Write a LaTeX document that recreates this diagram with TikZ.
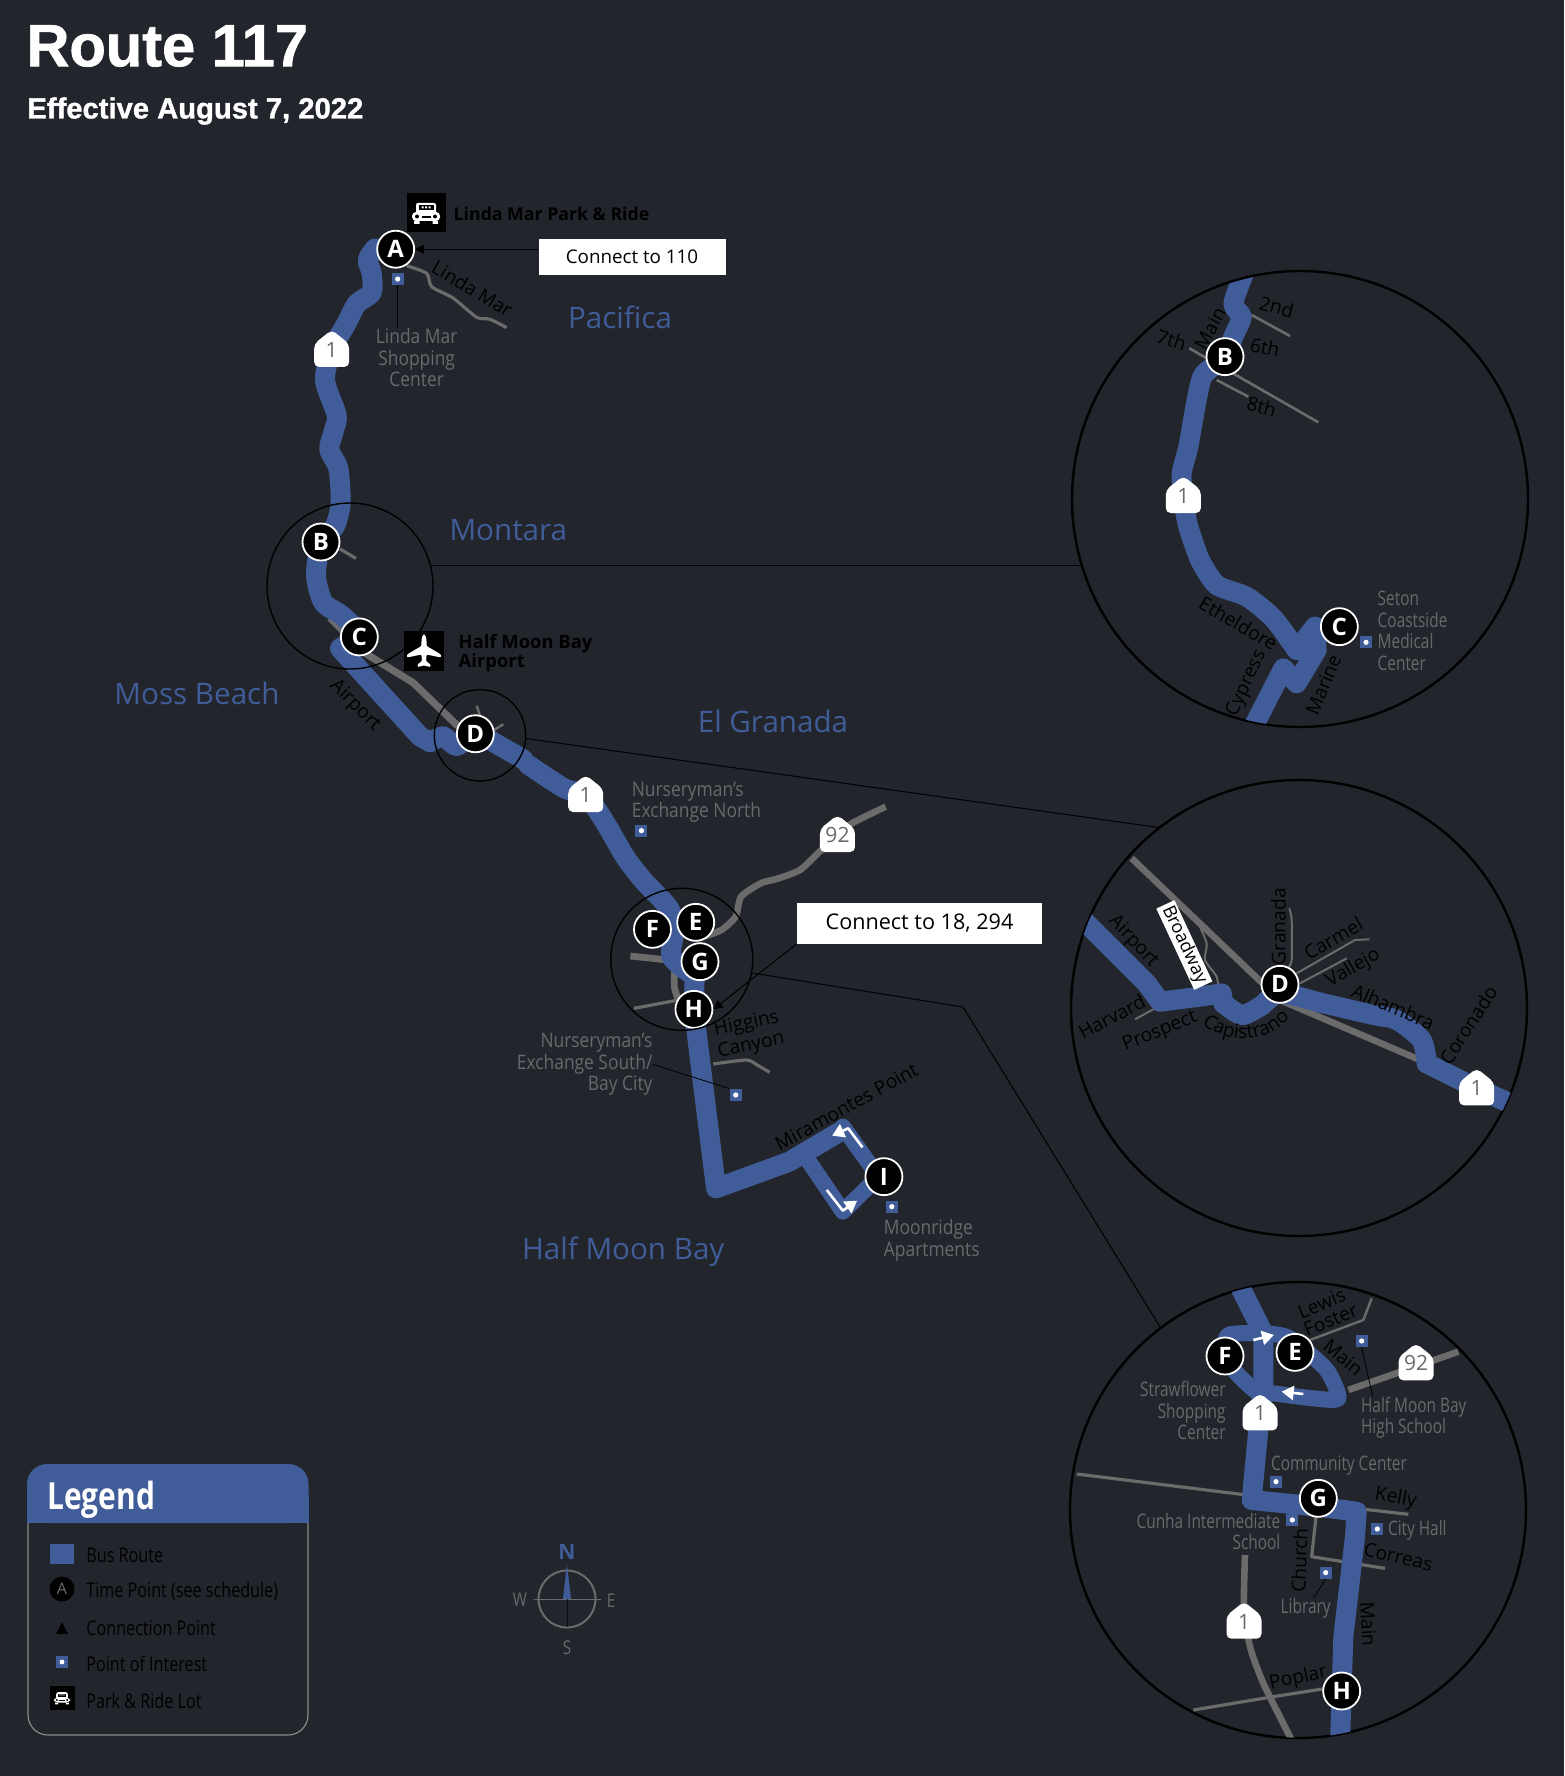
\documentclass[tikz,border=0pt]{standalone}
\usepackage{fontspec}
\setmainfont{Open Sans}
\newfontfamily\cond[FakeStretch=0.87]{Open Sans}
\newfontfamily\condn[FakeStretch=0.77]{Open Sans}
\newfontfamily\condl[FakeStretch=0.8]{Open Sans}
\newfontfamily\titlef[BoldFeatures={FakeBold=1.2}]{Liberation Sans}
\usetikzlibrary{arrows.meta,decorations.text}
\definecolor{bgc}{HTML}{22252B}
\definecolor{routeblue}{HTML}{405D99}
\definecolor{roadgray}{HTML}{6B6B6B}
\definecolor{labelgray}{HTML}{69696C}
\definecolor{legline}{HTML}{8A8A8A}
\tikzset{
 z1/.style={shift={(240,170)},xscale=1/3,yscale=1/2.613},
 z2/.style={shift={(500,760)},xscale=1/2.8,yscale=1/3},
 z3/.style={shift={(1060,260)},scale=1/3},
 z4/.style={shift={(1060,770)},scale=1/3},
 z5/.style={shift={(1060,1270)},scale=1/3},
 z6/.style={shift={(0,1440)},xscale=1/2.376,yscale=1/3},
 route/.style={draw=routeblue,line width=10pt,line cap=round,line join=round},
 routenar/.style={draw=routeblue,line width=8pt,line cap=round,line join=round},
 roadw/.style={draw=roadgray,line width=3.3pt,line join=round},
 roadm/.style={draw=roadgray,line width=1.6pt,line join=round},
 tp/.style={circle,fill=black,draw=white,line width=.9pt,minimum size=18.5pt,inner sep=0pt,text=white,font=\bfseries\fontsize{12}{12}\selectfont},
 poi/.style={rectangle,fill=routeblue,minimum size=6pt,inner sep=0pt},
 poidot/.style={circle,fill=white,minimum size=2.6pt,inner sep=0pt},
 glabel/.style={text=labelgray,font=\cond\fontsize{10}{10.8}\selectfont,inner sep=0pt},
 glabeln/.style={text=labelgray,font=\condn\fontsize{10}{10.8}\selectfont,inner sep=0pt},
 slabel/.style={text=black,font=\fontsize{9.6}{10.8}\selectfont,inner sep=0pt},
 town/.style={text=routeblue,font=\fontsize{14.8}{16}\selectfont,inner sep=0pt},
 blabel/.style={text=black,font=\bfseries\fontsize{8.85}{9.5}\selectfont,inner sep=0pt},
 shieldt/.style={text=labelgray,font=\fontsize{10.5}{11}\selectfont,inner sep=0pt},
 magsmall/.style={circle,draw=black,line width=.7pt,inner sep=0pt},
 magbig/.style={circle,draw=black,line width=1.2pt,inner sep=0pt,minimum size=228pt},
 conn/.style={draw=black,line width=.5pt},
 connarrow/.style={draw=black,line width=.5pt,-{Triangle[length=4.5pt,width=4.5pt]}},
 leader/.style={draw=black,line width=.4pt},
 whitebox/.style={fill=white,text=black,inner sep=0pt},
 warrow/.style={draw=white,line width=1.3pt,line join=round,-{Triangle[length=6pt,width=7pt]}},
 iconbox/.style={fill=black,inner sep=0pt},
 legtext/.style={text=black,font=\condl\fontsize{10.1}{11}\selectfont,inner sep=0pt,anchor=west},
 compl/.style={text=labelgray,font=\condl\fontsize{9.5}{11}\selectfont,inner sep=0pt},
 car/.pic={
  \fill[white,rounded corners=1pt] (-10,-10) rectangle (10,2);
  \fill[black] (-7.5,-7.5) rectangle (7.5,-2.5);
  \fill[white] (-4.5,-6.5) rectangle (-2.5,-4.5) (-1,-6.5) rectangle (1,-4.5) (2.5,-6.5) rectangle (4.5,-4.5);
  \fill[white,rounded corners=2pt] (-14,-1) rectangle (14,8);
  \fill[white] (-12,8) rectangle (-6.5,11) (6.5,8) rectangle (12,11);
  \fill[black] (-9,3.5) circle (2) (9,3.5) circle (2);
  \fill[black] (-4.5,3) rectangle (4.5,5.5);
 },
 planeicon/.pic={
  \fill[white,rounded corners=.5pt] (0,-16) .. controls (2,-15) and (2.6,-12) .. (2.6,-5)
   -- (17,3.5) -- (17,6.5) -- (2.6,3.5) -- (2,10) -- (6.5,13.5) -- (6.5,16) -- (0,14.5)
   -- (-6.5,16) -- (-6.5,13.5) -- (-2,10) -- (-2.6,3.5) -- (-17,6.5) -- (-17,3.5) -- (-2.6,-5)
   .. controls (-2.6,-12) and (-2,-15) .. (0,-16) -- cycle;
 },
}
\newcommand\POI[2]{\node[poi] (#1) at #2 {}; \node[poidot] at (#1) {};}
\newcommand\Shield[3]{\coordinate (#1c) at #2;
 \fill[white,rounded corners=2.4pt,reset cm,shift={(#1c)}] (-17.5,17) -- (17.5,17) -- (17.5,-6) -- (0,-20) -- (-17.5,-6) -- cycle;
 \node[shieldt] (#1) at (#1c) {#3};}
\begin{document}
\begin{tikzpicture}[x=0.5pt,y=-0.5pt]
\useasboundingbox (0,0) rectangle (1564,1776);
\fill[bgc] (0,0) rectangle (1564,1776);

% title
\node[anchor=west,inner sep=0pt,text=white,font=\titlef\bfseries\fontsize{29.8}{32}\selectfont] (title) at (26,46) {Route 117};
\node[anchor=west,inner sep=0pt,text=white,font=\titlef\bfseries\fontsize{14.6}{16}\selectfont] (subtitle) at (27,111) {Effective August 7, 2022};

% ---------- main map, upper
\begin{scope}[z1]
 \draw[roadm] plot[smooth,tension=.4] coordinates {(500,250) (560,270) (575,305) (640,335) (710,385) (750,390) (800,412)};
 \draw[roadw,line width=3.6pt] (270,1170) -- (380,1265) -- (520,1340) -- (650,1450) -- (800,1510) -- (855,1568);
 \draw[roadm] (300,990) -- (348,1015);
 \draw[draw=roadgray,line width=1.2pt] (710,1400) -- (722,1432);
 \draw[draw=roadgray,line width=1.2pt] (790,1448) -- (750,1470);
 \draw[route] plot[smooth,tension=.45] coordinates {(405,205) (383,235) (395,270) (395,320) (350,350) (320,400) (275,470) (255,550) (290,640) (282,680) (268,730) (295,780) (302,870) (285,930) (243,972) (228,1060) (250,1130) (300,1160) (345,1195)};
 \draw[route] (345,1195) -- (358,1220) -- (300,1250) -- (540,1480) -- (570,1495);
 \draw[route] plot[smooth,tension=.45] coordinates {(570,1495) (610,1480) (650,1505) (706,1473) (790,1510) (850,1540)};
 \Shield{shA}{(275,470)}{1}
 \node[tp] (A) at (467,207) {A};
 \node[tp] (B) at (243,972) {B};
 \node[tp] (C) at (358,1220) {C};
 \node[tp] (D) at (706,1473) {D};
 \POI{poiLM}{(473,285)}
 \node[glabel,align=center] (lblLM) at (530,490) {Linda Mar\\Shopping\\Center};
 \node[slabel,rotate=-31] (lblLindaMar) at (697,310) {Linda Mar};
 \node[slabel,rotate=-45] (lblAirport) at (345,1400) {Airport};
 \node[town] (Pacifica) at (1140,385) {Pacifica};
 \node[town] (Montara) at (805,940) {Montara};
 \node[blabel,anchor=west] (lblPR) at (640,115) {Linda Mar Park \& Ride};
 \node[blabel,font=\bfseries\fontsize{9.2}{9.6}\selectfont,anchor=west,align=left] (lblHMA) at (655,1263) {Half Moon Bay\\Airport};
 \node[magsmall,minimum size=83pt] (magB) at (330,1087) {};
 \node[magsmall,minimum size=45.7pt] (magD) at (720,1477) {};
\end{scope}
\node[town] (Moss) at (197,693) {Moss Beach};
\node[town] (Granada) at (773,721) {El Granada};
\node[iconbox,minimum size=19.5pt] (prbox) at (426,213) {};
\pic at (prbox) {car};
\node[iconbox,minimum size=20pt] (planebox) at (424,651) {};
\pic at (planebox) {planeicon};
\node[whitebox,minimum width=93.5pt,minimum height=18pt,font=\fontsize{9.4}{11}\selectfont] (c110) at (632,257) {Connect to 110};

% ---------- main map, lower
\begin{scope}[z2]
 \draw[roadw] plot[smooth,tension=.4] coordinates {(1080,140) (985,190) (945,225) (890,280) (840,330) (780,355) (730,370) (675,410) (660,470) (620,510) (570,530)};
 \draw[draw=roadgray,line width=3.4pt] (365,588) -- (470,600);
 \draw[draw=roadgray,line width=3.4pt] plot[smooth] coordinates {(490,620) (488,680) (500,720)};
 \draw[roadm] (375,745) -- (490,722);
 \draw[roadm] plot[smooth,tension=.4] coordinates {(597,912) (690,900) (720,915) (755,937)};
 \draw[route] plot[smooth,tension=.4] coordinates {(80,15) (180,85) (240,105) (290,180) (350,290) (400,360) (470,440) (490,500) (480,590) (545,650)};
 \draw[route] (545,650) -- (543,748) -- (560,900) -- (605,1285) -- (810,1205) -- (960,1110);
 \draw[routenar] (960,1100) -- (1060,1250) -- (960,1355) -- (865,1205);
 \draw[warrow] (1015,1162) -- (975,1105) -- (930,1127);
 \draw[warrow] (915,1290) -- (960,1352) -- (1000,1322);
 \Shield{shB}{(240,105)}{1}
 \Shield{sh92}{(945,225)}{92}
 \node[tp] (E) at (548,487) {E};
 \node[tp] (F) at (427,508) {F};
 \node[tp] (G) at (560,605) {G};
 \node[tp] (H) at (543,748) {H};
 \node[tp] (I) at (1075,1250) {I};
 \POI{poiNN}{(396,212)}
 \POI{poiNS}{(660,1005)}
 \POI{poiMR}{(1097,1340)}
 \node[glabel,anchor=west,align=left] (lblNN) at (368,127) {Nurseryman’s\\Exchange North};
 \node[glabel,anchor=east,align=right] (lblNS) at (428,913) {Nurseryman’s\\Exchange South/\\Bay City};
 \node[glabel,anchor=west,align=left] (lblMR) at (1074,1440) {Moonridge\\Apartments};
 \node[slabel,rotate=12,align=center] (lblHC) at (697,825) {Higgins\\Canyon};
 \node[slabel,rotate=29] (lblMP) at (970,1040) {Miramontes Point};
 \node[town] (HMB) at (345,1475) {Half Moon Bay};
 \node[magsmall,minimum size=71pt] (magG) at (509,598) {};
\end{scope}
\node[whitebox,minimum width=122.5pt,minimum height=20.5pt,font=\fontsize{10.8}{12}\selectfont] (c18) at (919.5,923) {Connect to 18, 294};

% ---------- inset B/C
\node[magbig] (bigB) at (1300,499) {};
\begin{scope}[z3]
 \begin{scope}
  \clip (720,718) circle (681);
  \draw[roadm,line width=1.3pt] (575,165) -- (690,228);
  \draw[roadm,line width=1.3pt] (388,265) -- (775,487);
  \draw[roadm,line width=1.3pt] (470,360) -- (565,410);
  \draw[route] plot[smooth,tension=.4] coordinates {(560,20) (520,130) (545,170) (520,230) (495,290) (430,345) (410,420) (385,560) (365,640) (370,720) (385,800) (420,900) (470,975) (560,1010) (640,1075) (710,1170)};
  \draw[route] (710,1170) -- (765,1100) -- (770,1170) -- (710,1270) -- (670,1225) -- (570,1420);
 \end{scope}
 \Shield{shC}{(370,708)}{1}
 \node[tp] (B2) at (495,290) {B};
 \node[tp] (C2) at (838,1100) {C};
 \POI{poiSC}{(918,1147)}
 \node[glabeln,anchor=west,align=left] (lblSC) at (952,1112) {Seton\\Coastside\\Medical\\Center};
 \node[slabel,rotate=-15] at (650,140) {2nd};
 \node[slabel,rotate=-18] at (335,240) {7th};
 \node[slabel,rotate=-12] at (615,262) {6th};
 \node[slabel,rotate=-15] at (605,440) {8th};
 \node[slabel,rotate=62] at (450,205) {Main};
 \node[slabel,rotate=-30] at (535,1090) {Etheldore};
 \node[slabel,rotate=65] at (560,1270) {Cypress};
 \node[slabel,rotate=68] at (790,1275) {Marine};
\end{scope}

% ---------- inset D
\node[magbig] (bigD) at (1299,1008) {};
\begin{scope}[z4]
 \begin{scope}
  \clip (718,713) circle (683);
  \draw[roadw] (215,265) -- (660,690) -- (1080,870);
  \draw[draw=roadgray,line width=1pt] plot[smooth,tension=.4] coordinates {(415,460) (440,520) (435,570) (470,620) (475,660)};
  \draw[draw=roadgray,line width=1pt] plot[smooth,tension=.4] coordinates {(688,415) (695,450) (695,570) (680,600)};
  \draw[draw=roadgray,line width=1pt] (710,610) -- (885,510) -- (928,508);
  \draw[draw=roadgray,line width=1pt] (720,640) -- (860,565);
  \draw[draw=roadgray,line width=1pt] (225,748) -- (285,715);
  \draw[route] (70,450) -- (260,640) -- (300,695) -- (420,680) -- (485,670) -- (490,700);
  \draw[route] plot[smooth,tension=.45] coordinates {(490,700) (545,735) (600,710) (660,670) (790,700) (940,735) (1010,750) (1085,810) (1100,880)};
  \draw[route] (1100,880) -- (1220,940) -- (1360,1005);
 \end{scope}
 \Shield{shD}{(1250,955)}{1}
 \node[tp] (D2) at (660,643) {D};
 \node[slabel,rotate=-47] at (220,515) {Airport};
 \node[slabel,font=\fontsize{9}{10}\selectfont,rotate=-65,fill=white,inner xsep=1.5pt,inner ysep=.5pt] (lblBroadway) at (373,525) {Broadway};
 \node[slabel,rotate=28] at (155,740) {Harvard};
 \node[slabel,rotate=22] at (300,785) {Prospect};
 \path[decorate,decoration={text along path,text align=center,text={|\fontsize{9.6}{11}\selectfont|Capistrano}}] (418,755) .. controls (490,822) and (620,830) .. (697,735);
 \node[slabel,rotate=-23] at (1000,710) {Alhambra};
 \node[slabel,rotate=57] at (1225,765) {Coronado};
 \node[slabel,rotate=90] at (655,470) {Granada};
 \node[slabel,rotate=30] at (820,505) {Carmel};
 \node[slabel,rotate=30] at (880,595) {Vallejo};
\end{scope}

% ---------- inset E-H
\node[magbig] (bigG) at (1298,1510) {};
\begin{scope}[z5]
 \begin{scope}
  \clip (715,720) circle (683);
  \draw[roadw] (1195,245) -- (865,360);
  \draw[draw=roadgray,line width=1.2pt] (935,85) -- (910,150) -- (750,210);
  \draw[roadm] (50,612) -- (560,675);
  \draw[roadm] (915,718) -- (1045,733);
  \draw[roadm] (768,740) -- (755,860) -- (975,895);
  \draw[roadw] plot[smooth,tension=.4] coordinates {(555,855) (552,1010) (570,1130) (610,1240) (700,1420)};
  \draw[roadm] (400,1320) -- (640,1280) -- (800,1255);
  \draw[routenar] plot[smooth cycle,tension=.4] coordinates {(610,190) (690,205) (800,300) (835,385) (760,385) (640,370) (590,365) (530,310) (495,258) (505,195)};
  \draw[route] (530,30) -- (610,190) -- (610,340) -- (595,480) -- (575,690) -- (775,710) -- (890,725) -- (885,800) -- (850,1100) -- (840,1420);
 \end{scope}
 \draw[warrow] (580,210) -- (642,195);
 \draw[warrow] (730,372) -- (665,365);
 \Shield{sh92b}{(1068,280)}{92}
 \Shield{shE}{(600,430)}{1}
 \Shield{shF}{(552,1055)}{1}
 \node[tp] (F2) at (495,258) {F};
 \node[tp] (E2) at (705,247) {E};
 \node[tp] (G2) at (775,685) {G};
 \node[tp] (H2) at (845,1263) {H};
 \POI{poiHS}{(905,213)}
 \POI{poiCC}{(648,635)}
 \POI{poiCI}{(697,750)}
 \POI{poiCH}{(952,777)}
 \POI{poiLib}{(797,908)}
 \node[glabeln,anchor=east,align=right] (lblSF) at (498,422) {Strawflower\\Shopping\\Center};
 \node[glabeln,anchor=west,align=left] (lblHS) at (902,443) {Half Moon Bay\\High School};
 \node[glabeln,anchor=west] (lblCC) at (632,586) {Community Center};
 \node[glabeln,anchor=east,align=right] (lblCI) at (662,785) {Cunha Intermediate\\School};
 \node[glabeln,anchor=west] (lblCH) at (983,782) {City Hall};
 \node[glabeln] (lblLib) at (737,1015) {Library};
 \node[slabel,rotate=22] at (785,100) {Lewis};
 \node[slabel,rotate=22] at (812,150) {Foster};
 \node[slabel,rotate=-40] at (850,262) {Main};
 \node[slabel,rotate=-10] at (1007,685) {Kelly};
 \node[slabel,rotate=-13] at (1015,860) {Correas};
 \node[slabel,rotate=88] at (718,870) {Church};
 \node[slabel,rotate=-87] at (925,1062) {Main};
 \node[slabel,rotate=12] at (715,1225) {Poplar};
\end{scope}

% ---------- connectors
\draw[connarrow] (c110.west |- A.east) -- (A.east);
\draw[connarrow] (c18.south west) -- (H.east);
\draw[conn] (magB.14.6) -- (bigB.196.9 |- magB.14.6);
\draw[conn] (magD.-4) -- (bigD.128);
\coordinate (bendG) at (963,1007);
\draw[conn] (magG.-11) -- (bendG) -- (bigG.127);
\draw[leader] (poiLM.south) -- (poiLM.south |- lblLM.north);
\draw[leader] (lblNS.east) -- (poiNS.north west);
\draw[leader] (poiHS.south) -- ([xshift=6pt]lblHS.north west);
\draw[leader] (poiLib.south) -- ([xshift=4pt]lblLib.north);

% ---------- legend
\fill[routeblue,rounded corners=10pt] (27,1464) rectangle (308.5,1523);
\fill[routeblue] (27,1495) rectangle (308.5,1523);
\draw[legline,line width=.6pt,rounded corners=10pt] (28,1523) -- (28,1735) -- (308,1735) -- (308,1523);
\node[anchor=west,inner sep=0pt,text=white,font=\condl\bfseries\fontsize{18.7}{20}\selectfont] (legtitle) at (47,1500) {Legend};
\node[fill=routeblue,minimum width=12.2pt,minimum height=10pt,inner sep=0pt] (legR) at (62,1554) {};
\node[legtext] (legRt) at (86,1555) {Bus Route};
\node[circle,fill=black,minimum size=12.5pt,inner sep=0pt,text=labelgray,font=\fontsize{8}{8}\selectfont] (legA) at (62,1589) {A};
\node[legtext] (legAt) at (86,1591) {Time Point (see schedule)};
\fill[black] (56,1634) -- (68,1634) -- (62,1622) -- cycle;
\node[legtext] (legCt) at (86,1628) {Connection Point};
\node[poi,minimum width=5.6pt,minimum height=6pt] (legP) at (62,1662) {};
\node[poidot,minimum size=2.4pt] at (legP) {};
\node[legtext] (legPt) at (86,1664) {Point of Interest};
\node[iconbox,minimum width=12.5pt,minimum height=12pt] (legBox) at (62,1698) {};
\pic[scale=.58] at (legBox) {car};
\node[legtext] (legBt) at (86,1701) {Park \& Ride Lot};

% ---------- compass
\coordinate (comp) at (567,1599);
\draw[roadgray,line width=1pt] (comp) circle (28.5);
\draw[roadgray,line width=.5pt] (533.6,1599) -- (601,1599);
\draw[black!60!bgc,line width=.3pt] (comp) -- (567,1627);
\fill[routeblue] (563,1599) -- (571,1599) -- (567,1564) -- cycle;
\node[text=routeblue,inner sep=0pt,font=\bfseries\fontsize{10.5}{11}\selectfont] (cN) at (567,1552) {N};
\node[compl] (cW) at (520,1600) {W};
\node[compl] (cE) at (611,1601) {E};
\node[compl] (cS) at (567,1648) {S};
\end{tikzpicture}
\end{document}
